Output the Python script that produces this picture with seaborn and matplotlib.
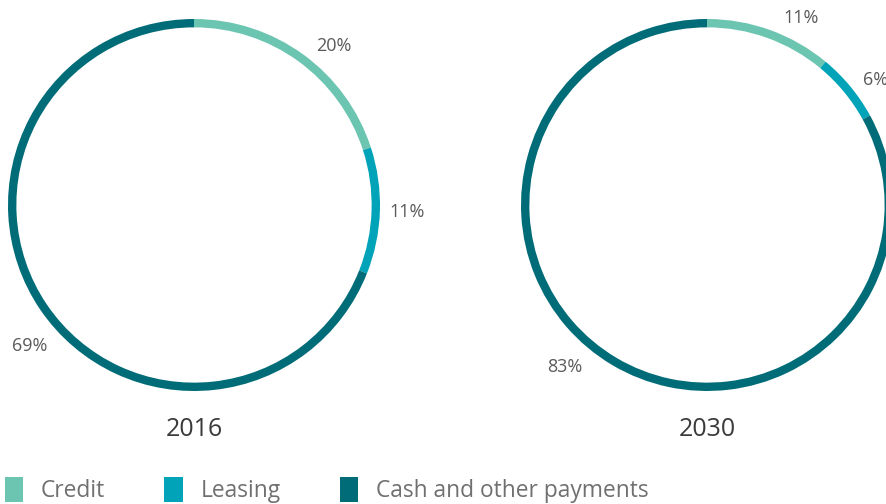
import numpy as np
import matplotlib.pyplot as plt
import seaborn as sns
from matplotlib.patches import Patch

sns.set_theme(style="white")
plt.rcParams['font.family'] = ['Open Sans', 'DejaVu Sans']

# data
categories = ["Credit", "Leasing", "Cash and other payments"]
years = ["2016", "2030"]
shares_2016 = [20, 11, 69]
shares_2030 = [11, 6, 83]

colors = sns.color_palette(["#6cc5b1", "#00a3b7", "#006c77"])

# pixel nudges for the percentage labels (reference places them freely)
nudges = [[(14, -14), (-1, 0), (13, -21)],
          [(22, -14), (4, -11), (-33, 22)]]

W, H = 887, 504
fig = plt.figure(figsize=(W / 100, H / 100), dpi=100)

R = 186  # ring radius in px
centers = [(194, 205), (707, 205)]

for (cx, cy), year, vals, nud in zip(centers, years, [shares_2016, shares_2030], nudges):
    ax = fig.add_axes([(cx - R) / W, (H - cy - R) / H, 2 * R / W, 2 * R / H])
    wedges, _ = ax.pie(vals, colors=colors, startangle=90, counterclock=False,
                       radius=1, wedgeprops=dict(width=0.045, linewidth=0))
    for w, v, (dx, dy) in zip(wedges, vals, nud):
        ang = np.deg2rad((w.theta1 + w.theta2) / 2)
        x, y = 1.15 * np.cos(ang), 1.15 * np.sin(ang)
        ax.annotate(f"{v}%", (x, y), xytext=(dx, dy), textcoords="offset pixels",
                    ha="center", va="center", fontsize=13, color="#5a5a5a",
                    annotation_clip=False)
    ax.set_xlim(-1, 1)
    ax.set_ylim(-1, 1)
    ax.set_aspect("equal")
    ax.axis("off")
    fig.text(cx / W, 1 - 429 / H, year, ha="center", va="center",
             fontsize=18, color="#3a3a3a")

handles = [Patch(facecolor=c, edgecolor="none") for c in colors]
fig.legend(handles, categories, loc="lower left", bbox_to_anchor=(5 / W, 1 / H),
           ncol=3, frameon=False, fontsize=16.4, borderpad=0, borderaxespad=0,
           handlelength=0.8, handleheight=1.35, handletextpad=0.78,
           columnspacing=2.6, labelcolor="#707070")

fig.savefig("out.png", dpi=100)
